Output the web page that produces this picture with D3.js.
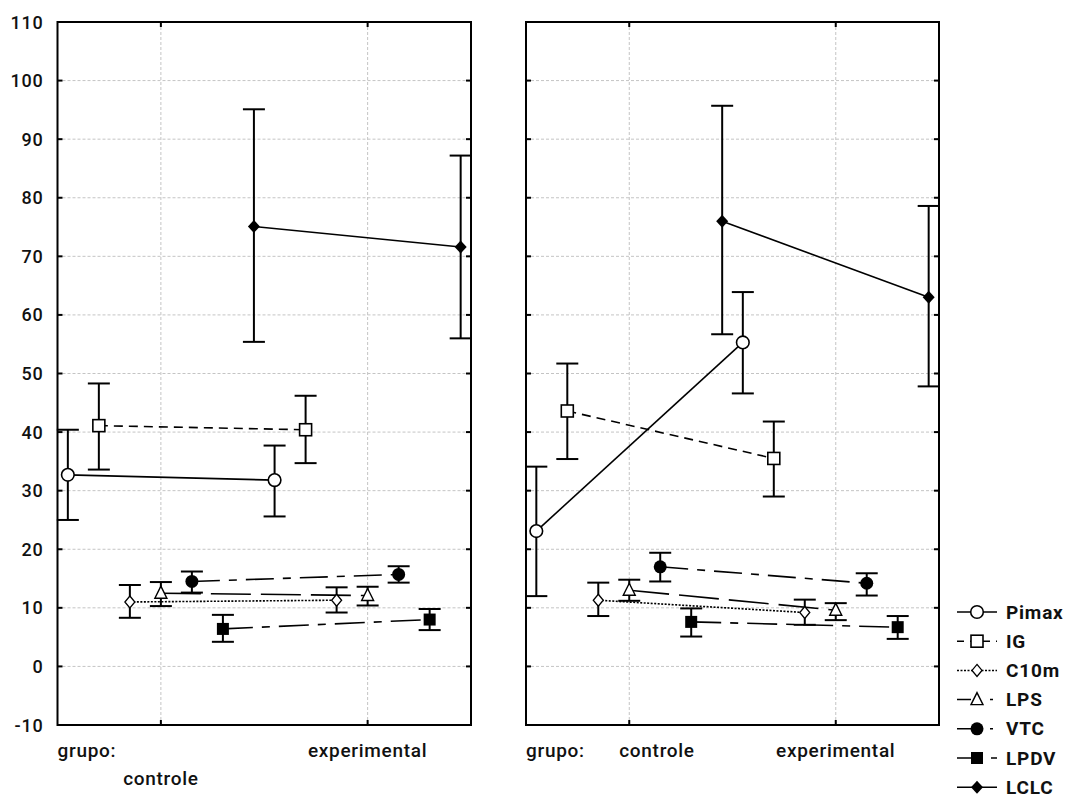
<!DOCTYPE html>
<html>
<head>
<meta charset="utf-8">
<script src="https://cdn.jsdelivr.net/npm/d3@7"></script>
<style>
  body { margin: 0; background: #fff; }
  text { font-family: Roboto, "DejaVu Sans", sans-serif; fill: #111; font-weight: 500; }
</style>
</head>
<body>
<script>
// categories and series
var groups = ["controle", "experimental"];
var seriesNames = ["Pimax", "IG", "C10m", "LPS", "VTC", "LPDV", "LCLC"];
var yTicks = [-10, 0, 10, 20, 30, 40, 50, 60, 70, 80, 90, 100, 110];

// left panel: mean, lower, upper  [controle, experimental]
var leftMean  = [[32.7, 31.8], [41.1, 40.4], [11.0, 11.3], [12.5, 12.1], [14.5, 15.7], [6.4, 8.0], [75.1, 71.6]];
var leftLow   = [[25.0, 25.6], [33.6, 34.7], [8.3, 9.2],   [10.3, 10.4], [12.6, 14.3], [4.2, 6.2], [55.4, 56.0]];
var leftHigh  = [[40.4, 37.7], [48.3, 46.2], [13.9, 13.5], [14.4, 13.6], [16.2, 17.1], [8.8, 9.8], [95.1, 87.2]];

// right panel
var rightMean = [[23.1, 55.3], [43.6, 35.5], [11.3, 9.2],  [13.0, 9.6],  [17.0, 14.2], [7.6, 6.7], [76.0, 63.0]];
var rightLow  = [[12.0, 46.6], [35.4, 29.0], [8.6, 7.1],   [11.2, 7.9],  [14.5, 12.1], [5.1, 4.7], [56.7, 47.8]];
var rightHigh = [[34.1, 63.9], [51.7, 41.8], [14.3, 11.4], [14.8, 10.8], [19.4, 15.9], [9.9, 8.6], [95.7, 78.6]];

var dashes = [null, "9,6", "2,1.5", "40,10", "28,9,8,9", "30,9,8,9", null];

var width = 1069, height = 798;
var svg = d3.select("body").append("svg")
    .attr("width", width)
    .attr("height", height);

var y = d3.scaleLinear().domain([-10, 110]).range([725, 22]);

function marker(g, i, cx, cy) {
  var s = g.append("g").attr("transform", "translate(" + cx + "," + cy + ")");
  if (i == 0) {
    s.append("circle").attr("r", 6.3).attr("fill", "#fff").attr("stroke", "#000").attr("stroke-width", 1.6);
  } else if (i == 1) {
    s.append("rect").attr("x", -6).attr("y", -6).attr("width", 12).attr("height", 12)
      .attr("fill", "#fff").attr("stroke", "#000").attr("stroke-width", 1.6);
  } else if (i == 2) {
    s.append("path").attr("d", "M0,-6L5,0L0,6L-5,0Z").attr("fill", "#fff").attr("stroke", "#000").attr("stroke-width", 1.3);
  } else if (i == 3) {
    s.append("path").attr("d", "M0,-7L6,5L-6,5Z").attr("fill", "#fff").attr("stroke", "#000").attr("stroke-width", 1.4);
  } else if (i == 4) {
    s.append("circle").attr("r", 6.5).attr("fill", "#000");
  } else if (i == 5) {
    s.append("rect").attr("x", -6).attr("y", -6).attr("width", 12).attr("height", 12).attr("fill", "#000");
  } else {
    s.append("path").attr("d", "M0,-6.5L6,0L0,6.5L-6,0Z").attr("fill", "#000");
  }
}

function panel(x0, x1, mean, low, high, showY, labelRows) {
  var x = d3.scaleLinear().domain([0.5, 2.5]).range([x0, x1]);
  var g = svg.append("g");
  var off = function(i) { return (i - 3) * 0.15; };

  // grid
  g.selectAll(".hg").data(yTicks.slice(1, -1)).enter().append("line")
    .attr("x1", x0).attr("x2", x1)
    .attr("y1", function(d) { return y(d); }).attr("y2", function(d) { return y(d); })
    .attr("stroke", "#c4c4c4").attr("stroke-width", 1).attr("stroke-dasharray", "3,2");
  g.selectAll(".vg").data([1, 2]).enter().append("line")
    .attr("x1", function(d) { return x(d); }).attr("x2", function(d) { return x(d); })
    .attr("y1", y(110)).attr("y2", y(-10))
    .attr("stroke", "#c4c4c4").attr("stroke-width", 1).attr("stroke-dasharray", "3,2");

  // inner ticks
  yTicks.forEach(function(t) {
    g.append("line").attr("x1", x0).attr("x2", x0 + 5).attr("y1", y(t)).attr("y2", y(t)).attr("stroke", "#000").attr("stroke-width", 2);
    g.append("line").attr("x1", x1).attr("x2", x1 - 5).attr("y1", y(t)).attr("y2", y(t)).attr("stroke", "#000").attr("stroke-width", 2);
  });
  [1, 2].forEach(function(c) {
    g.append("line").attr("x1", x(c)).attr("x2", x(c)).attr("y1", y(110)).attr("y2", y(110) + 5).attr("stroke", "#000").attr("stroke-width", 2);
    g.append("line").attr("x1", x(c)).attr("x2", x(c)).attr("y1", y(-10)).attr("y2", y(-10) - 5).attr("stroke", "#000").attr("stroke-width", 2);
  });

  // frame
  g.append("rect").attr("x", x0).attr("y", y(110))
    .attr("width", x1 - x0).attr("height", y(-10) - y(110))
    .attr("fill", "none").attr("stroke", "#000").attr("stroke-width", 2);

  // error bars
  seriesNames.forEach(function(name, i) {
    [0, 1].forEach(function(k) {
      var cx = x(k + 1 + off(i));
      g.append("line").attr("x1", cx).attr("x2", cx)
        .attr("y1", y(low[i][k])).attr("y2", y(high[i][k]))
        .attr("stroke", "#000").attr("stroke-width", 2);
      [low[i][k], high[i][k]].forEach(function(v) {
        g.append("line").attr("x1", cx - 11).attr("x2", cx + 11)
          .attr("y1", y(v)).attr("y2", y(v))
          .attr("stroke", "#000").attr("stroke-width", 2);
      });
    });
  });

  // connecting lines
  var line = d3.line()
    .x(function(d) { return x(d[0]); })
    .y(function(d) { return y(d[1]); });
  seriesNames.forEach(function(name, i) {
    var pts = [[1 + off(i), mean[i][0]], [2 + off(i), mean[i][1]]];
    g.append("path").datum(pts)
      .attr("d", line)
      .attr("fill", "none").attr("stroke", "#000").attr("stroke-width", 1.6)
      .attr("stroke-dasharray", dashes[i]);
  });

  // markers
  seriesNames.forEach(function(name, i) {
    [0, 1].forEach(function(k) {
      marker(g, i, x(k + 1 + off(i)), y(mean[i][k]));
    });
  });

  // y labels
  if (showY) {
    g.selectAll(".yl").data(yTicks).enter().append("text")
      .attr("x", x0 - 14).attr("y", function(d) { return y(d); })
      .attr("text-anchor", "end").attr("dominant-baseline", "central")
      .style("font-size", "18px").style("letter-spacing", "0.8px")
      .text(function(d) { return d; });
  }

  // x labels
  g.append("text").attr("x", x0).attr("y", 757)
    .style("font-size", "19px").style("letter-spacing", "0.7px").text("grupo:");
  labelRows.forEach(function(lr, k) {
    g.append("text")
      .attr("x", x(k + 1) + lr.dx).attr("y", lr.row == 0 ? 757 : 785)
      .attr("text-anchor", lr.anchor)
      .style("font-size", "19px").style("letter-spacing", "0.7px")
      .text(groups[k]);
  });
}

panel(57.5, 471, leftMean, leftLow, leftHigh, true,
  [{row: 1, dx: 0, anchor: "middle"}, {row: 0, dx: 0, anchor: "middle"}]);
panel(526, 939, rightMean, rightLow, rightHigh, false,
  [{row: 0, dx: -10, anchor: "start"}, {row: 0, dx: 0, anchor: "middle"}]);

// legend
var legend = svg.append("g").attr("transform", "translate(957,612)");
seriesNames.forEach(function(name, i) {
  var ly = i * 29.2;
  legend.append("line").attr("x1", 0).attr("x2", 40).attr("y1", ly).attr("y2", ly)
    .attr("stroke", "#000").attr("stroke-width", 1.5)
    .attr("stroke-dasharray", i == 3 || i == 4 ? "14,19,3,10" : (i == 1 ? "7,6" : (i == 5 ? "14,20,8" : dashes[i])));
  marker(legend, i, 20, ly);
  legend.append("text").attr("x", 49).attr("y", ly)
    .attr("dominant-baseline", "central")
    .style("font-size", "19px").style("font-weight", "bold").style("letter-spacing", "0.8px")
    .text(name);
});
</script>
</body>
</html>
